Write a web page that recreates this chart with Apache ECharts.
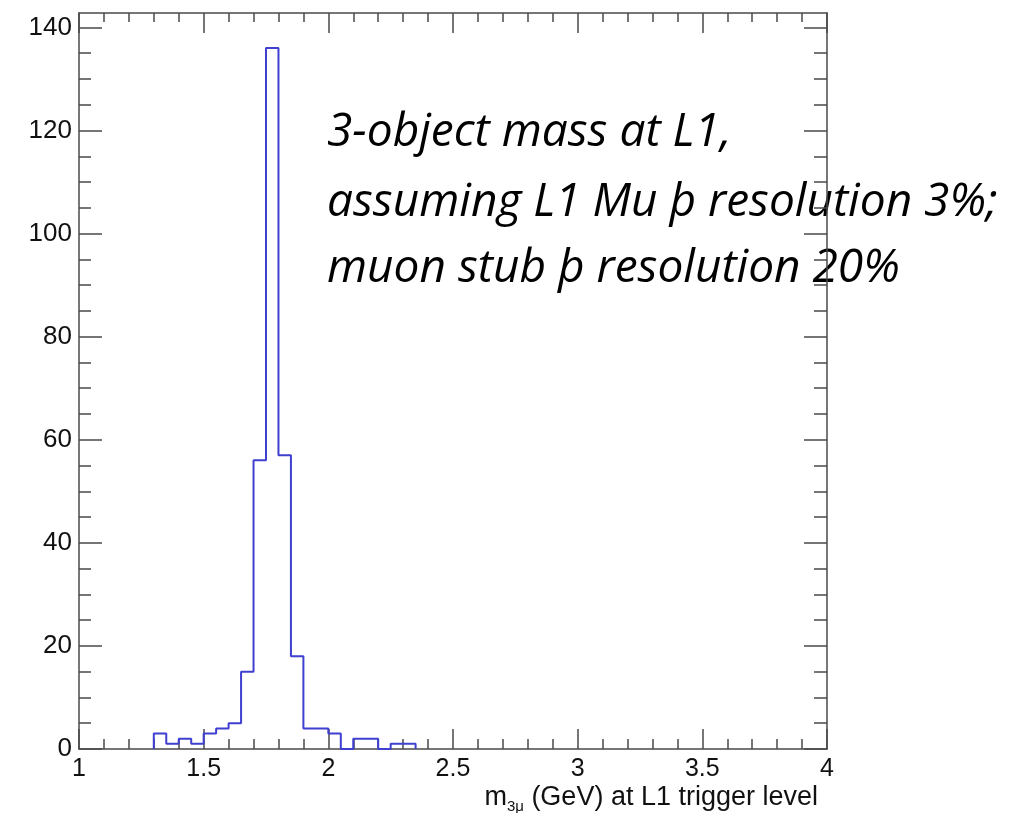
<!DOCTYPE html>
<html><head><meta charset="utf-8">
<script src="https://cdn.jsdelivr.net/npm/echarts@6/dist/echarts.min.js"></script>
<style>html,body{margin:0;padding:0;background:#fff}#c{width:1026px;height:813px}</style>
</head><body><div id="c"></div>
<script>
// Histogram bin edges (GeV) and counts
const binEdges = [1.30,1.35,1.40,1.45,1.50,1.55,1.60,1.65,1.70,1.75,1.80,1.85,1.90,1.95,2.00,2.05,2.10,2.15,2.20,2.25,2.30,2.35];
const counts   = [3,   1,   2,   1,   3,   4,   5,   15,  56,  136, 57,  18,  4,   4,   3,   0,   2,   2,   0,   1,   1];
const yMajorTicks = [0,20,40,60,80,100,120,140];
const yMinorTicks = [5,10,15,25,30,35,45,50,55,65,70,75,85,90,95,105,110,115,125,130,135];
const annotationLines = ['3-object mass at L1,', 'assuming L1 Mu þ resolution 3%;', 'muon stub þ resolution 20%'];

const points = [[binEdges[0], 0]];
for (let i = 0; i < counts.length; i++) points.push([binEdges[i + 1], counts[i]]);
points.push([binEdges[binEdges.length - 1], 0]);

const AX = '#4a4a4a';
const lineStyle = {color: AX, width: 1.5};
const tickStyle = {color: AX, width: 1.5};
const labelFont = {fontFamily: 'Liberation Sans', color: '#111'};
const annFont = 'italic 46px "Open Sans"';

const chart = echarts.init(document.getElementById('c'), null, {renderer: 'canvas'});
chart.setOption({
  animation: false,
  backgroundColor: '#fff',
  grid: {left: 79, right: 199, top: 13, bottom: 64, containLabel: false, outerBoundsMode: 'none'},
  xAxis: [
    {type: 'value', position: 'bottom', min: 1, max: 4, interval: 0.5,
     axisLine: {show: true, onZero: false, lineStyle},
     axisTick: {show: true, inside: true, length: 20, lineStyle: tickStyle},
     minorTick: {show: true, splitNumber: 5, length: 10, lineStyle: tickStyle},
     axisLabel: Object.assign({fontSize: 25, margin: 8}, labelFont),
     splitLine: {show: false}},
    {type: 'value', position: 'top', min: 1, max: 4, interval: 0.5,
     axisLine: {show: true, onZero: false, lineStyle},
     axisTick: {show: true, inside: true, length: 20, lineStyle: tickStyle},
     minorTick: {show: true, splitNumber: 5, length: 9, lineStyle: tickStyle},
     axisLabel: {show: false}, splitLine: {show: false}}
  ],
  yAxis: [
    {type: 'value', position: 'left', min: 0, max: 142.8,
     axisLine: {show: true, onZero: false, lineStyle},
     axisTick: {show: true, inside: true, length: 23, lineStyle: tickStyle, customValues: yMajorTicks},
     axisLabel: Object.assign({fontSize: 26, margin: 7, customValues: yMajorTicks}, labelFont),
     splitLine: {show: false}},
    {type: 'value', position: 'left', min: 0, max: 142.8,
     axisLine: {show: false},
     axisTick: {show: true, inside: true, length: 12, lineStyle: tickStyle, customValues: yMinorTicks},
     axisLabel: {show: false}, splitLine: {show: false}},
    {type: 'value', position: 'right', min: 0, max: 142.8,
     axisLine: {show: true, onZero: false, lineStyle},
     axisTick: {show: true, inside: true, length: 23, lineStyle: tickStyle, customValues: yMajorTicks},
     axisLabel: {show: false}, splitLine: {show: false}},
    {type: 'value', position: 'right', min: 0, max: 142.8,
     axisLine: {show: false},
     axisTick: {show: true, inside: true, length: 13, lineStyle: tickStyle, customValues: yMinorTicks},
     axisLabel: {show: false}, splitLine: {show: false}}
  ],
  series: [{
    type: 'line', xAxisIndex: 0, yAxisIndex: 0, step: 'start',
    data: points, showSymbol: false, symbol: 'none',
    lineStyle: {color: '#3f3fd0', width: 2}
  }],
  graphic: [
    {type: 'text', left: 327, top: 110, style: {text: annotationLines[0], font: annFont, fill: '#000'}},
    {type: 'text', left: 327, top: 180, style: {text: annotationLines[1], font: annFont, fill: '#000'}},
    {type: 'text', left: 327, top: 246, style: {text: annotationLines[2], font: annFont, fill: '#000'}},
    {type: 'text', right: 208, top: 784, style: {
      text: '{n|m}{s|3μ}{n| (GeV) at L1 trigger level}',
      fill: '#111',
      rich: {
        n: {fontSize: 27, fontFamily: 'Liberation Sans', lineHeight: 27, verticalAlign: 'top', fill: '#111'},
        s: {fontSize: 15, fontFamily: 'Liberation Sans', lineHeight: 15, verticalAlign: 'top', padding: [15, 0, 0, 0], fill: '#111'}
      }
    }}
  ]
});
</script>
</body></html>
